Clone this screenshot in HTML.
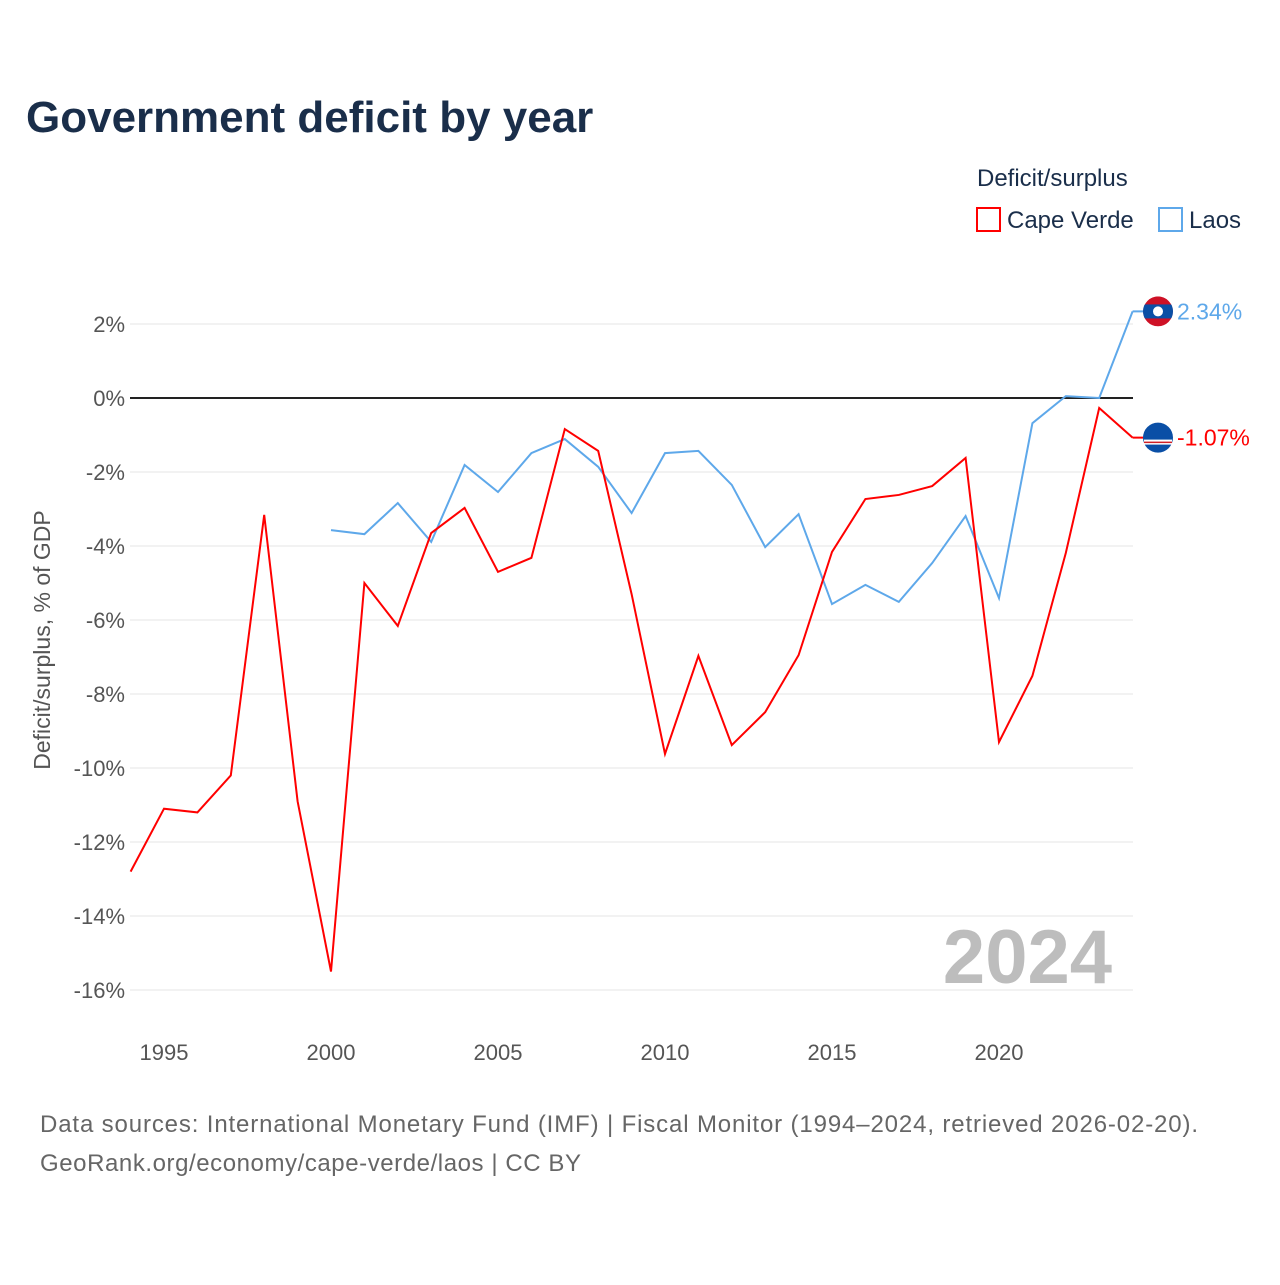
<!DOCTYPE html>
<html><head><meta charset="utf-8"><style>
body{margin:0;background:#fff;font-family:"Liberation Sans",sans-serif;}
</style></head><body>
<svg id="chart" width="1280" height="1280" xmlns="http://www.w3.org/2000/svg" style="font-family:'Liberation Sans',sans-serif">
<defs><clipPath id="c1"><circle cx="1158" cy="311.4" r="15"/></clipPath></defs>
<text x="26" y="132" font-size="44" font-weight="bold" fill="#1a2e4a">Government deficit by year</text>
<text x="977" y="186" font-size="24" fill="#1a2e4a">Deficit/surplus</text>
<g><rect x="977" y="208" width="23" height="23" fill="none" stroke="#ff0000" stroke-width="2"/><text x="1007" y="228" font-size="24" fill="#1a2e4a">Cape Verde</text></g>
<g><rect x="1159" y="208" width="23" height="23" fill="none" stroke="#5ea8ea" stroke-width="2"/><text x="1189" y="228" font-size="24" fill="#1a2e4a">Laos</text></g>
<text transform="translate(50,640) rotate(-90)" text-anchor="middle" font-size="23" fill="#555">Deficit/surplus, % of GDP</text>
<g id="grid"></g><g id="yt"></g><g id="xt"></g>
<text x="1112" y="983" text-anchor="end" font-size="76" font-weight="bold" fill="#bdbdbd">2024</text>
<g id="lines"></g>
<text x="40" y="1132" font-size="24" fill="#666" textLength="1158" lengthAdjust="spacing">Data sources: International Monetary Fund (IMF) | Fiscal Monitor (1994–2024, retrieved 2026-02-20).</text>
<text x="40" y="1171" font-size="24" fill="#666" textLength="541" lengthAdjust="spacing">GeoRank.org/economy/cape-verde/laos | CC BY</text>
</svg>
<script>
const years=[1994,1995,1996,1997,1998,1999,2000,2001,2002,2003,2004,2005,2006,2007,2008,2009,2010,2011,2012,2013,2014,2015,2016,2017,2018,2019,2020,2021,2022,2023,2024];
const capeVerde=[-12.8,-11.1,-11.2,-10.2,-3.16,-10.9,-15.5,-5.0,-6.16,-3.65,-2.97,-4.7,-4.32,-0.84,-1.43,-5.3,-9.62,-6.97,-9.38,-8.49,-6.95,-4.16,-2.73,-2.62,-2.38,-1.62,-9.3,-7.51,-4.19,-0.27,-1.07];
const laosYears=[2000,2001,2002,2003,2004,2005,2006,2007,2008,2009,2010,2011,2012,2013,2014,2015,2016,2017,2018,2019,2020,2021,2022,2023,2024];
const laos=[-3.57,-3.68,-2.84,-3.89,-1.81,-2.54,-1.49,-1.11,-1.86,-3.11,-1.49,-1.43,-2.35,-4.03,-3.14,-5.57,-5.05,-5.51,-4.46,-3.19,-5.41,-0.68,0.05,0.0,2.34];
const yTicks=[2,0,-2,-4,-6,-8,-10,-12,-14,-16];
const xTicks=[1995,2000,2005,2010,2015,2020];
const NS="http://www.w3.org/2000/svg";
const X=y=>130.6+(y-1994)*33.4;
const Y=v=>398-v*37;
function mk(tag,attrs,parent){const e=document.createElementNS(NS,tag);for(const k in attrs)e.setAttribute(k,attrs[k]);parent.appendChild(e);return e;}
const grid=document.getElementById('grid'),yt=document.getElementById('yt'),xt=document.getElementById('xt'),lines=document.getElementById('lines');
yTicks.forEach(t=>{
  const l=mk('line',{x1:130,x2:1133,y1:Y(t),y2:Y(t),stroke:t===0?'#222':'#e6e6e6','stroke-width':t===0?2:1},grid);
  
  
  const tx=mk('text',{x:125,y:Y(t)+8,'text-anchor':'end','font-size':22,fill:'#555'},yt);
  tx.textContent=t+'%';
  
  
});
xTicks.forEach(t=>{
  const tx=mk('text',{x:X(t),y:1060,'text-anchor':'middle','font-size':22,fill:'#555'},xt);
  tx.textContent=t;
  
  
});
function line(xs,vs,color,name){
  const p=mk('polyline',{points:xs.map((y,i)=>X(y)+','+Y(vs[i])).join(' '),fill:'none',stroke:color,'stroke-width':2},lines);
  
  
}
line(laosYears,laos,'#5ea8ea','laos-line');
line(years,capeVerde,'#ff0000','cape-verde-line');
const lx=1158;
const lv=laos[laos.length-1], cv=capeVerde[capeVerde.length-1];
mk('line',{x1:X(2024),x2:lx,y1:Y(lv),y2:Y(lv),stroke:'#5ea8ea','stroke-width':2},lines);
mk('line',{x1:X(2024),x2:lx,y1:Y(cv),y2:Y(cv),stroke:'#ff0000','stroke-width':2},lines);
document.querySelector('#c1 circle').setAttribute('cy',Y(lv));
const g1=mk('g',{'clip-path':'url(#c1)'},lines);


mk('circle',{cx:lx,cy:Y(lv),r:15,fill:'#ce1126'},g1);
mk('rect',{x:lx-15,y:Y(lv)-7,width:30,height:14,fill:'#0a4fa6'},g1);
mk('circle',{cx:lx,cy:Y(lv),r:5,fill:'#fff'},g1);
const g2=mk('g',{},lines);


mk('circle',{cx:lx,cy:Y(cv),r:15,fill:'#0a4fa6'},g2);
mk('rect',{x:lx-14,y:Y(cv)+2,width:28,height:5,fill:'#fff'},g2);
mk('rect',{x:lx-14,y:Y(cv)+4,width:28,height:1.5,fill:'#cf2027'},g2);
const t1=mk('text',{x:1177,y:Y(lv)+8,'font-size':23,fill:'#5ea8ea'},lines);
t1.textContent=lv.toFixed(2)+'%';


const t2=mk('text',{x:1177,y:Y(cv)+8,'font-size':23,fill:'#ff0000'},lines);
t2.textContent=cv.toFixed(2)+'%';


</script>
</body></html>
